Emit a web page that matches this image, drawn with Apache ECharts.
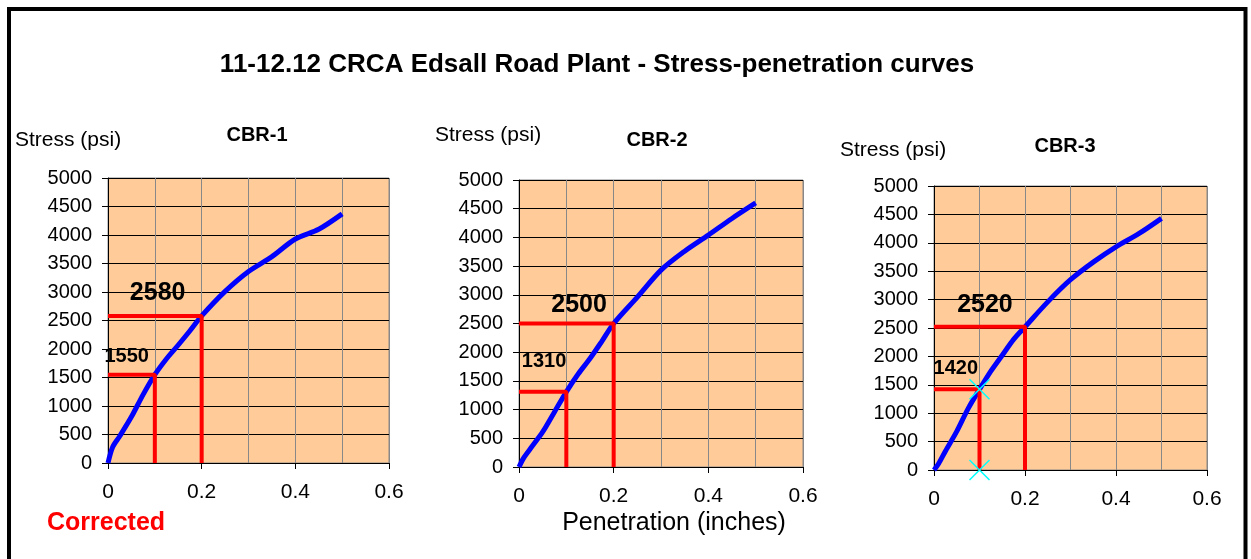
<!DOCTYPE html>
<html lang="en">
<head>
  <meta charset="UTF-8">
  <title>CRCA Edsall Road Plant - Stress-penetration curves</title>
  <style>
    html,
    body,
    #main {
      margin: 0;
      padding: 0;
      background: #fff;
    }

    #main {
      width: 1251px;
      height: 559px;
    }
  </style>
</head>
<body>
  <div id="main"></div>
  <script src="https://cdn.jsdelivr.net/npm/echarts@6/dist/echarts.min.js"></script>
  <script>
    // penetration (inches) shared by the three tests
    const pen = [0, 0.01, 0.025, 0.05, 0.075, 0.1, 0.125, 0.15, 0.175, 0.2, 0.25, 0.3, 0.35, 0.4, 0.45, 0.5];
    // stress (psi)
    const cbr1 = [0, 280, 470, 810, 1200, 1550, 1830, 2070, 2320, 2580, 3010, 3360, 3620, 3930, 4100, 4370];
    const cbr2 = [0, 160, 330, 610, 960, 1310, 1620, 1890, 2190, 2500, 2960, 3430, 3760, 4040, 4330, 4600];
    const cbr3 = [0, 110, 330, 680, 1080, 1420, 1740, 2020, 2300, 2520, 2960, 3350, 3660, 3930, 4160, 4430];
    const names = ['CBR-1', 'CBR-2', 'CBR-3'];
    // stress read at 0.1" and 0.2"
    const at01 = [1550, 1310, 1420];
    const at02 = [2580, 2500, 2520];

    const FONT = "'Liberation Sans', Arial, sans-serif";
    const PEACH = '#FFCC99';

    const grids = [
      { left: 108, top: 178, width: 281, height: 285 },
      { left: 519, top: 180, width: 284, height: 287 },
      { left: 934, top: 186, width: 273, height: 284 }
    ];
    // where the value labels sit, relative to the reading
    const labelOff = [
      { a: [0.04, 310], b: [0.106, 400] },
      { a: [0.053, 520], b: [0.127, 322] },
      { a: [0.048, 376], b: [0.112, 385] }
    ];

    const curves = [cbr1, cbr2, cbr3];

    const xAxes = grids.map((g, i) => ({
      gridIndex: i,
      type: 'value',
      min: 0,
      max: 0.6,
      interval: 0.2,
      axisLine: { lineStyle: { color: '#000', width: 1 } },
      axisTick: { show: true, length: 6, lineStyle: { color: '#000' } },
      minorTick: { show: false, splitNumber: 2 },
      axisLabel: { color: '#000', fontSize: 21, fontFamily: FONT, margin: 19 },
      splitLine: { show: true, lineStyle: { color: '#888', width: 1 } },
      minorSplitLine: { show: true, lineStyle: { color: '#888', width: 1 } }
    }));

    const yAxes = grids.map((g, i) => ({
      gridIndex: i,
      type: 'value',
      min: 0,
      max: 5000,
      interval: 500,
      axisLine: { show: true, lineStyle: { color: '#000', width: 1 } },
      axisTick: { show: true, length: 6, lineStyle: { color: '#000' } },
      axisLabel: { color: '#000', fontSize: 20, fontFamily: FONT, margin: 16, formatter: v => String(v) },
      splitLine: { show: true, lineStyle: { color: '#000', width: 1 } }
    }));

    const series = [];
    curves.forEach((c, i) => {
      series.push({
        type: 'line',
        xAxisIndex: i,
        yAxisIndex: i,
        data: pen.map((p, k) => [p, c[k]]),
        symbol: 'none',
        smooth: 0.3,
        lineStyle: { color: '#0000FF', width: 5 },
        z: 3
      });
      [[0.1, at01[i]], [0.2, at02[i]]].forEach(r => {
        series.push({
          type: 'line',
          xAxisIndex: i,
          yAxisIndex: i,
          data: [[0, r[1]], [r[0], r[1]], [r[0], 0]],
          symbol: 'none',
          lineStyle: { color: '#FF0000', width: 4 },
          z: 4
        });
      });
      series.push({
        type: 'scatter',
        xAxisIndex: i,
        yAxisIndex: i,
        symbolSize: 0,
        silent: true,
        z: 6,
        itemStyle: { opacity: 1 },
        label: {
          show: true,
          position: 'inside',
          color: '#000',
          opacity: 1,
          textBorderWidth: 0,
          fontWeight: 'bold',
          fontFamily: FONT,
          formatter: p => p.data.text
        },
        data: [
          { value: [labelOff[i].a[0], at01[i] + labelOff[i].a[1]], text: String(at01[i]), label: { fontSize: 20 } },
          { value: [labelOff[i].b[0], at02[i] + labelOff[i].b[1]], text: String(at02[i]), label: { fontSize: 25 } }
        ]
      });
    });

    // cyan crosses on CBR-3
    series.push({
      type: 'scatter',
      xAxisIndex: 2,
      yAxisIndex: 2,
      symbol: 'path://M0,0L10,10M10,0L0,10',
      symbolSize: 20,
      itemStyle: { color: 'transparent', borderColor: '#00FFFF', borderWidth: 1.5, opacity: 1 },
      z: 7,
      data: [[0.1, at01[2]], [0.1, 0]]
    });

    const txt = (x, y, text, font, align, color) => ({
      type: 'text',
      x: x,
      y: y,
      style: {
        text: text,
        font: font,
        fill: color || '#000',
        textAlign: align || 'center',
        textVerticalAlign: 'middle'
      },
      z: 10
    });

    const graphic = [
      {
        type: 'rect',
        shape: { x: 9, y: 9, width: 1236.5, height: 600 },
        style: { fill: 'none', stroke: '#000', lineWidth: 4 },
        z: 20
      },
      txt(597, 65, '11-12.12 CRCA Edsall Road Plant - Stress-penetration curves', "bold 26px " + FONT),
      txt(15, 140, 'Stress (psi)', "21px " + FONT, 'left'),
      txt(435, 135, 'Stress (psi)', "21px " + FONT, 'left'),
      txt(840, 150, 'Stress (psi)', "21px " + FONT, 'left'),
      txt(257, 135, names[0], "bold 20px " + FONT),
      txt(657, 140, names[1], "bold 20px " + FONT),
      txt(1065, 146, names[2], "bold 20px " + FONT),
      txt(47, 523, 'Corrected', "bold 25px " + FONT, 'left', '#FF0000'),
      txt(674, 523, 'Penetration (inches)', "25px " + FONT)
    ];

    const myChart = echarts.init(document.getElementById('main'));
    const option = {
      animation: false,
      backgroundColor: '#fff',
      grid: grids.map(g => Object.assign({
        show: true,
        backgroundColor: PEACH,
        borderColor: '#888',
        borderWidth: 1,
        containLabel: false
      }, g)),
      xAxis: xAxes,
      yAxis: yAxes,
      series: series,
      graphic: graphic
    };

    myChart.setOption(option);
  </script>
</body>
</html>
